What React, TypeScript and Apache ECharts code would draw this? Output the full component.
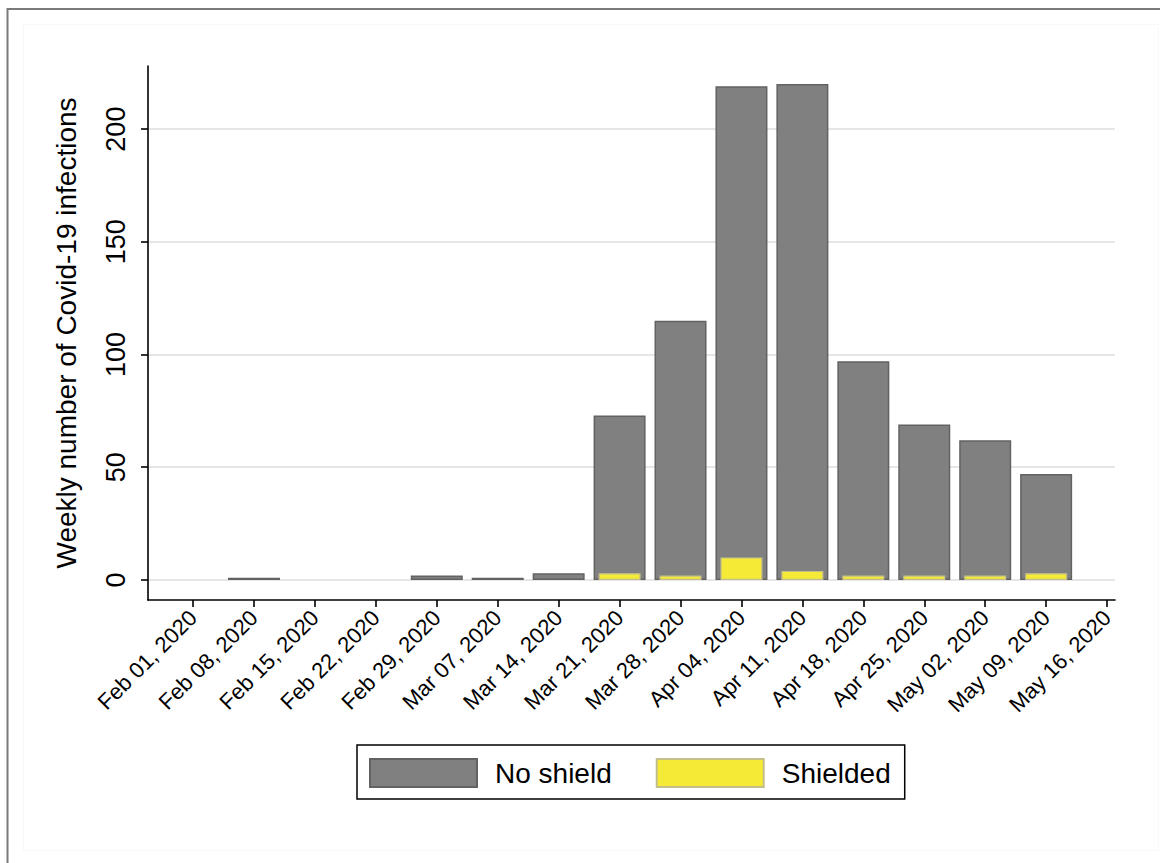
import React, { useEffect, useRef } from "react";
import * as echarts from "echarts";

const weekLabels = [
  "Feb 01, 2020", "Feb 08, 2020", "Feb 15, 2020", "Feb 22, 2020",
  "Feb 29, 2020", "Mar 07, 2020", "Mar 14, 2020", "Mar 21, 2020",
  "Mar 28, 2020", "Apr 04, 2020", "Apr 11, 2020", "Apr 18, 2020",
  "Apr 25, 2020", "May 02, 2020", "May 09, 2020", "May 16, 2020",
];
const noShield = [0, 1, 0, 0, 2, 1, 3, 73, 115, 219, 220, 97, 69, 62, 47, 0];
const shielded = [0, 0, 0, 0, 0, 0, 0, 3, 2, 10, 4, 2, 2, 2, 3, 0];
const yTicks = [0, 50, 100, 150, 200];
const seriesNames = ["No shield", "Shielded"];
const yTitle = "Weekly number of Covid-19 infections";

const FONT = "'Liberation Sans', Arial, Helvetica, sans-serif";
const xTickValues = weekLabels.map((_, i) => i);

const toData = (arr: number[]) =>
  arr.map((v, i) => [i, v]).filter((d) => d[1] > 0);

export default function App() {
  const ref = useRef<HTMLDivElement>(null);
  useEffect(() => {
    const chart = echarts.init(ref.current!, null, { renderer: "svg" });
    const xCommon = {
      type: "value" as const,
      min: -0.739,
      max: 15.13,
    };
    chart.setOption({
      animation: false,
      backgroundColor: "#ffffff",
      textStyle: { fontFamily: FONT },
      grid: { left: 148, right: 45, top: 66, bottom: 263, containLabel: false },
      xAxis: [
        {
          ...xCommon,
          position: "bottom",
          axisLine: { show: true, onZero: false, lineStyle: { color: "#000", width: 1.6 } },
          axisTick: { show: true, length: 7, customValues: xTickValues, lineStyle: { color: "#000", width: 1.6 } },
          axisLabel: {
            customValues: xTickValues,
            rotate: 45,
            margin: 14,
            fontSize: 22,
            color: "#000",
            fontFamily: FONT,
            formatter: (v: number) => weekLabels[Math.round(v)] ?? "",
          },
          splitLine: { show: false },
        },
        {
          ...xCommon,
          show: false,
          splitLine: { show: false },
        },
      ],
      yAxis: {
        type: "value",
        min: -8.9,
        max: 228,
        name: yTitle,
        nameLocation: "middle",
        nameRotate: 90,
        nameGap: 68,
        nameTextStyle: { fontSize: 28, color: "#000", fontFamily: FONT },
        axisLine: { show: true, onZero: false, lineStyle: { color: "#000", width: 1.6 } },
        axisTick: { show: true, length: 7, customValues: yTicks, lineStyle: { color: "#000", width: 1.6 } },
        axisLabel: {
          customValues: yTicks,
          rotate: 90,
          align: "center",
          verticalAlign: "bottom",
          margin: 19,
          fontSize: 27,
          color: "#000",
          fontFamily: FONT,
        },
        splitLine: { show: true, lineStyle: { color: "#e6e6e6", width: 2.2 } },
      },
      legend: {
        data: seriesNames,
        left: 357,
        top: 745,
        orient: "horizontal",
        icon: "rect",
        itemWidth: 107,
        itemHeight: 28,
        itemGap: 44,
        padding: [13, 14, 11, 12],
        borderColor: "#000",
        borderWidth: 1.5,
        selectedMode: false,
        textStyle: { fontSize: 28, color: "#000", fontFamily: FONT, padding: [0, 0, 0, 13] },
      },
      graphic: [
        {
          type: "rect",
          silent: true,
          shape: { x: 7.5, y: 9, width: 1300, height: 1000 },
          style: { fill: "none", stroke: "#7a7a7a", lineWidth: 2 },
        },
        {
          type: "rect",
          silent: true,
          shape: { x: 23.5, y: 24.5, width: 1135, height: 826 },
          style: { fill: "none", stroke: "#f8f8f8", lineWidth: 1 },
        },
      ],
      series: [
        {
          name: seriesNames[0],
          type: "bar",
          xAxisIndex: 0,
          barWidth: 52,
          data: toData(noShield),
          itemStyle: { color: "#808080", borderColor: "#626262", borderWidth: 1.5 },
        },
        {
          name: seriesNames[1],
          type: "bar",
          xAxisIndex: 1,
          barWidth: 42,
          data: toData(shielded),
          itemStyle: { color: "#f5ea35", borderColor: "#c4bf8a", borderWidth: 1.2 },
        },
      ],
    });
    return () => chart.dispose();
  }, []);
  return (
    <div
      ref={ref}
      style={{ position: "absolute", left: 0, top: 0, width: 1160, height: 863, background: "#fff" }}
    />
  );
}
